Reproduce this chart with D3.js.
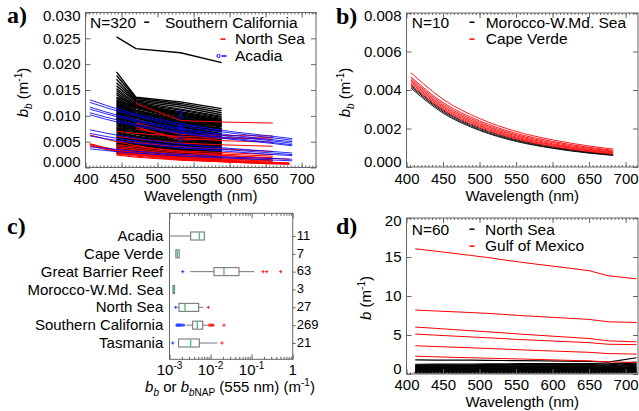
<!DOCTYPE html>
<html><head><meta charset="utf-8">
<script src="https://cdn.jsdelivr.net/npm/d3@7"></script>
<style>body{margin:0;background:#fff}svg{display:block}</style>
</head><body><svg id="c" width="639" height="411"></svg>
<script>
// ---------------- DATA ----------------
// Panel a: bb spectra
const socalWl = [443, 470, 532, 589];
const socalLines = [
[0.0253,0.0230,0.0222,0.0203],
[0.0185,0.0136,0.0127,0.0114],[0.0178,0.0134,0.0124,0.0110],[0.0171,0.0131,0.0121,0.0106],
[0.0164,0.0129,0.0117,0.0102],[0.0158,0.0127,0.0113,0.0099],[0.0153,0.0124,0.0111,0.0097],
[0.0149,0.0122,0.0108,0.0095],[0.0145,0.0119,0.0106,0.0093],[0.0141,0.0117,0.0104,0.0091],
[0.0098,0.0128,0.0101,0.0089],[0.0104,0.0124,0.0098,0.0086],[0.0093,0.0119,0.0094,0.0083],
[0.0136,0.0121,0.0101,0.0090],[0.0134,0.0117,0.0099,0.0088],[0.0131,0.0116,0.0096,0.0085],
[0.0129,0.0114,0.0095,0.0083],[0.0127,0.0111,0.0093,0.0081],[0.0125,0.0110,0.0090,0.0080],
[0.0123,0.0108,0.0089,0.0079],[0.0121,0.0106,0.0087,0.0076],[0.0119,0.0104,0.0086,0.0075],
[0.0117,0.0103,0.0084,0.0074],[0.0115,0.0101,0.0082,0.0071],[0.0113,0.0099,0.0081,0.0070],
[0.0111,0.0098,0.0079,0.0069],[0.0109,0.0096,0.0078,0.0066],[0.0107,0.0095,0.0075,0.0065],
[0.0105,0.0092,0.0074,0.0063],[0.0103,0.0091,0.0072,0.0062],[0.0101,0.0090,0.0071,0.0060],
[0.0099,0.0087,0.0069,0.0059],[0.0097,0.0086,0.0068,0.0058],[0.0095,0.0084,0.0066,0.0056],
[0.0093,0.0082,0.0065,0.0055],[0.0091,0.0081,0.0063,0.0054],[0.0089,0.0079,0.0062,0.0052],
[0.0087,0.0077,0.0061,0.0050],[0.0085,0.0076,0.0059,0.0049],[0.0083,0.0074,0.0057,0.0048],
[0.0081,0.0072,0.0056,0.0046],[0.0079,0.0070,0.0055,0.0045],[0.0077,0.0069,0.0053,0.0043],
[0.0075,0.0067,0.0051,0.0042],[0.0073,0.0065,0.0050,0.0041],[0.0071,0.0064,0.0048,0.0039],
[0.0069,0.0061,0.0047,0.0038],[0.0067,0.0060,0.0045,0.0037],[0.0065,0.0058,0.0044,0.0035],
[0.0063,0.0056,0.0042,0.0034],[0.0061,0.0054,0.0041,0.0033],[0.0059,0.0053,0.0039,0.0031],
[0.0057,0.0051,0.0038,0.0030],[0.0055,0.0049,0.0036,0.0029],[0.0053,0.0047,0.0035,0.0027],
[0.0051,0.0046,0.0033,0.0026],[0.0049,0.0044,0.0032,0.0025],[0.0047,0.0042,0.0030,0.0024],
[0.0045,0.0040,0.0029,0.0023],[0.0043,0.0039,0.0028,0.0021],[0.0041,0.0037,0.0026,0.0020],
[0.0039,0.0035,0.0025,0.0019],[0.0037,0.0033,0.0024,0.0018],[0.0035,0.0032,0.0023,0.0017],
[0.0033,0.0030,0.0021,0.0016],[0.0031,0.0028,0.0020,0.0015],[0.0029,0.0026,0.0019,0.0015],
[0.0027,0.0025,0.0018,0.0014]
];
const nsWlA = [406, 443, 490, 532, 589, 683];
const northSeaA = [
[0.0063,0.0050,0.0038,0.0031,0.0024,0.0016],
[0.0046,0.0034,0.0025,0.0019,0.0014,0.0009],
[0.0045,0.0033,0.0024,0.0018,0.0013,0.0008],
[0.0044,0.0032,0.0023,0.0017,0.0012,0.0007],
[0.0042,0.0031,0.0022,0.0016,0.0011,0.0006]
];
const nsWlB = [443, 470, 532, 589, 660];
const northSeaB = [
[0.0070,0.0066,0.0060,0.0058,0.0055],[0.0060,0.0056,0.0047,0.0044,0.0041],
[0.0052,0.0048,0.0040,0.0036,0.0031],[0.0044,0.0040,0.0032,0.0029,0.0025],
[0.0041,0.0037,0.0029,0.0026,0.0022],[0.0038,0.0034,0.0026,0.0023,0.0019],
[0.0036,0.0032,0.0024,0.0021,0.0017],[0.0034,0.0030,0.0022,0.0019,0.0015],
[0.0032,0.0028,0.0020,0.0017,0.0013],[0.0030,0.0026,0.0019,0.0016,0.0012],
[0.0028,0.0024,0.0017,0.0014,0.0010],[0.0026,0.0022,0.0015,0.0012,0.0008],
[0.0024,0.0020,0.0014,0.0011,0.0007]
];
const nsWlC = [470, 532, 589, 660];
const northSeaC = [
[0.0124,0.0091,0.0088,0.0086],[0.0079,0.0053,0.0056,0.0058],
[0.0086,0.0064,0.0062,0.0061],[0.0075,0.0057,0.0052,0.0049]
];
const acadiaWl = [406, 450, 500, 550, 600, 650, 687];
const acadiaLines = [
[0.0131,0.0111,0.0094,0.0081,0.0070,0.0062,0.0056],
[0.0126,0.0107,0.0090,0.0077,0.0067,0.0059,0.0053],
[0.0117,0.0099,0.0084,0.0072,0.0063,0.0055,0.0050],
[0.0113,0.0096,0.0081,0.0069,0.0060,0.0053,0.0047],
[0.0106,0.0090,0.0076,0.0065,0.0057,0.0050,0.0044],
[0.0102,0.0086,0.0073,0.0063,0.0055,0.0048,0.0042],
[0.0073,0.0061,0.0051,0.0043,0.0037,0.0032,0.0028],
[0.0066,0.0055,0.0046,0.0039,0.0034,0.0029,0.0025],
[0.0061,0.0051,0.0042,0.0036,0.0031,0.0026,0.0023],
[0.0040,0.0034,0.0028,0.0024,0.0020,0.0018,0.0016],
[0.0036,0.0030,0.0025,0.0021,0.0018,0.0015,0.0013]
];
const acadiaPointWl = 532;
const acadiaPoints = [0.0108, 0.0097, 0.0079, 0.0076, 0.0060, 0.0053];

// Panel b
const bWl = [406, 450, 500, 550, 600, 650, 683];
const capeVerdeLines = [
[0.00490,0.00352,0.00252,0.00185,0.00141,0.00109,0.00093],
[0.00468,0.00335,0.00240,0.00175,0.00133,0.00102,0.00087],
[0.00460,0.00326,0.00232,0.00168,0.00127,0.00097,0.00082],
[0.00452,0.00318,0.00225,0.00162,0.00121,0.00092,0.00078],
[0.00445,0.00311,0.00218,0.00156,0.00116,0.00088,0.00074],
[0.00438,0.00304,0.00212,0.00151,0.00112,0.00084,0.00071],
[0.00430,0.00298,0.00206,0.00146,0.00107,0.00080,0.00067]
];
const moroccoLines = [
[0.00425,0.00293,0.00201,0.00142,0.00104,0.00077,0.00065],
[0.00418,0.00287,0.00195,0.00137,0.00100,0.00074,0.00062],
[0.00410,0.00280,0.00190,0.00133,0.00097,0.00072,0.00060]
];

// Panel c: box plot at 555 nm
const boxRegions = ["Acadia","Cape Verde","Great Barrier Reef","Morocco-W.Md. Sea","North Sea","Southern California","Tasmania"];
const boxCounts = [11, 7, 63, 3, 27, 269, 21];
const boxWhiskLo = [0.00102, 0.00140, 0.00316, 0.00119, 0.00161, 0.00260, 0.00164];
const boxQ1 =      [0.00328, 0.00143, 0.01210, 0.00122, 0.00170, 0.00367, 0.00167];
const boxMedian =  [0.00532, 0.00155, 0.02120, 0.00128, 0.00238, 0.00475, 0.00328];
const boxQ3 =      [0.00703, 0.00172, 0.04920, 0.00133, 0.00514, 0.00643, 0.00532];
const boxWhiskHi = [0.00703, 0.00175, 0.11600, 0.00136, 0.00665, 0.00840, 0.01460];
const boxOutLo = [[], [], [0.0021], [], [0.00142], [0.00150,0.00158,0.00165,0.00172,0.00180,0.00190,0.00205,0.00225], [0.00120]];
const boxOutHi = [[], [], [0.19,0.233,0.51], [], [0.0088], [0.0092,0.0098,0.0104,0.0110,0.0116,0.0212], [0.019]];

// Panel d: b spectra
const dWl = [412, 440, 488, 510, 532, 555, 650, 676, 715];
const gulfLines = [
[16.05,15.75,15.20,14.95,14.65,14.35,13.25,12.60,12.20],
[8.20,8.08,7.88,7.78,7.65,7.50,7.00,6.70,6.60],
[6.02,5.85,5.55,5.42,5.28,5.12,4.55,4.25,4.12],
[5.12,4.98,4.75,4.65,4.54,4.42,4.02,3.82,3.76],
[3.62,3.52,3.36,3.28,3.20,3.10,2.78,2.62,2.55],
[2.28,2.20,2.08,2.03,1.98,1.93,1.68,1.55,1.48]
];
const northSeaD = [
[1.80,1.79,1.77,1.75,1.73,1.71,1.62,1.52,2.08],
[1.25,1.26,1.28,1.30,1.31,1.32,1.33,1.30,1.52],
[1.15,1.16,1.18,1.20,1.21,1.22,1.22,1.17,1.42],
[1.08,1.08,1.10,1.11,1.12,1.12,1.12,1.05,1.30],
[1.00,1.00,1.02,1.03,1.03,1.04,1.03,0.96,1.22],
[0.93,0.93,0.94,0.95,0.95,0.95,0.94,0.88,1.12],
[0.86,0.86,0.87,0.87,0.87,0.88,0.86,0.80,1.02],
[0.80,0.80,0.80,0.80,0.80,0.80,0.79,0.73,0.92],
[0.74,0.74,0.74,0.74,0.74,0.74,0.72,0.66,0.84],
[0.68,0.68,0.68,0.68,0.68,0.68,0.66,0.60,0.76],
[0.62,0.62,0.62,0.62,0.62,0.62,0.60,0.55,0.68],
[0.56,0.56,0.56,0.56,0.56,0.56,0.54,0.50,0.60],
[0.50,0.50,0.50,0.50,0.50,0.50,0.48,0.45,0.52],
[0.44,0.44,0.44,0.44,0.44,0.44,0.43,0.40,0.46],
[0.38,0.38,0.38,0.38,0.38,0.38,0.37,0.35,0.40],
[0.32,0.32,0.32,0.32,0.32,0.32,0.31,0.30,0.34],
[0.26,0.26,0.26,0.26,0.26,0.26,0.26,0.25,0.28],
[0.20,0.20,0.20,0.20,0.20,0.20,0.20,0.19,0.22],
[0.14,0.14,0.14,0.14,0.14,0.14,0.14,0.14,0.16]
];

// Tick values
const wlMajor = [400, 450, 500, 550, 600, 650, 700];
const aYTicks = [0, 0.005, 0.010, 0.015, 0.020, 0.025, 0.030];
const bYTicks = [0, 0.002, 0.004, 0.006, 0.008];
const dYTicks = [0, 5, 10, 15, 20];
const cXTicks = [1e-3, 1e-2, 1e-1, 1];
const cXLabels = ["-3", "-2", "-1", ""];

// ---------------- DRAWING ----------------
const FONT = '"Liberation Sans", Arial, Helvetica, sans-serif';
const AX = "#666";
const RED = "#ff0000", BLUE = "#0000ff";
const LEG = 16.9; // legend row spacing
const svg = d3.select("#c").style("font-family", FONT);

function addAxis(g, axis, tx, ty) {
  const a = g.append("g").attr("transform", `translate(${tx},${ty})`).call(axis);
  a.select(".domain").remove();
  a.selectAll("line").attr("stroke", AX);
  a.selectAll("text").attr("fill", "#000").style("font-family", FONT).style("font-size", "15px");
  return a;
}
function range5(a, b, s) { return d3.range(a, b + 0.001, s); }

function frame(g, x, y, xMajor, xMinor, yMajor, yFmt, xPad) {
  const [x0, x1] = x.range(), [y0, y1] = y.range();
  g.append("rect").attr("x", x0).attr("y", y1).attr("width", x1 - x0).attr("height", y0 - y1)
    .attr("fill", "none").attr("stroke", AX);
  addAxis(g, d3.axisBottom(x).tickValues(xMinor).tickSize(-2).tickFormat(""), 0, y0);
  addAxis(g, d3.axisTop(x).tickValues(xMinor).tickSize(-2).tickFormat(""), 0, y1);
  addAxis(g, d3.axisBottom(x).tickValues(xMajor).tickSize(-5).tickPadding(xPad).tickFormat(d3.format("d")), 0, y0);
  addAxis(g, d3.axisTop(x).tickValues(xMajor).tickSize(-5).tickFormat(""), 0, y1);
  const la = addAxis(g, d3.axisLeft(y).tickValues(yMajor).tickSize(-5).tickPadding(5).tickFormat(yFmt), x0, 0);
  const n = yMajor.length;
  la.selectAll("text").attr("dy", (d, i) => i === 0 ? "-0.05em" : (i === n - 1 ? "0.5em" : "0.32em"));
  addAxis(g, d3.axisRight(y).tickValues(yMajor).tickSize(-5).tickFormat(""), x1, 0);
}
function xTitle(g, x, yb) {
  const [x0, x1] = x.range();
  g.append("text").attr("x", (x0 + x1) / 2).attr("y", yb).attr("text-anchor", "middle")
    .style("font-size", "15px").text("Wavelength (nm)");
}
function yTitle(g, cx, cy, sub, gap) {
  const t = g.append("text").attr("transform", `translate(${cx},${cy}) rotate(-90)`)
    .attr("text-anchor", "middle").style("font-size", "15px");
  t.append("tspan").style("font-style", "italic").text("b");
  if (sub) t.append("tspan").style("font-style", "italic").style("font-size", "10px").attr("dy", 4).text(sub);
  t.append("tspan").attr("dy", sub ? -4 : 0).text(gap + "(m");
  t.append("tspan").style("font-size", "10px").attr("dy", -6).text("-1");
  t.append("tspan").attr("dy", 6).text(")");
}
function panelLabel(x, y, s) {
  svg.append("text").attr("x", x).attr("y", y).style("font-family", '"Liberation Serif", "Times New Roman", serif')
    .style("font-weight", "bold").style("font-size", "24px").text(s);
}
function drawLines(g, x, y, wl, lines, color, curve, w) {
  const gen = d3.line().x((d, i) => x(wl[i])).y(d => y(d)).curve(curve || d3.curveLinear);
  g.append("g").selectAll("path").data(lines).join("path")
    .attr("d", gen).attr("fill", "none").attr("stroke", color).attr("stroke-width", w || 1);
}
function legText(g, x, y, s) {
  g.append("text").attr("x", x).attr("y", y).style("font-size", "15.5px").text(s);
}
function legDash(g, x, y, color) {
  g.append("line").attr("x1", x - 2.5).attr("x2", x + 2.5).attr("y1", y).attr("y2", y)
    .attr("stroke", color).attr("stroke-width", 1.5);
}

// ---- Panel a ----
{
  const g = svg.append("g");
  const x = d3.scaleLinear().domain([400, 720]).range([85.5, 316]);
  const y = d3.scaleLinear().domain([0, 0.030]).range([167.5, 12.5]);
  drawLines(g, x, y, socalWl, socalLines, "#000", null, 1.4);
  drawLines(g, x, y, nsWlA, northSeaA, RED, d3.curveMonotoneX);
  drawLines(g, x, y, nsWlB, northSeaB, RED);
  drawLines(g, x, y, nsWlC, northSeaC, RED);
  drawLines(g, x, y, acadiaWl, acadiaLines, BLUE, d3.curveMonotoneX, 0.85);
  g.append("g").selectAll("circle").data(acadiaPoints).join("circle")
    .attr("cx", x(acadiaPointWl)).attr("cy", d => y(d)).attr("r", 1.8)
    .attr("fill", "none").attr("stroke", BLUE).attr("stroke-width", 0.9);
  frame(g, x, y, wlMajor, range5(400, 720, 5), aYTicks, d3.format(".3f"), 6);
  xTitle(g, x, 201);
  yTitle(g, 28, 92.5, "b", " ");
  const r1 = 27.5;
  legText(g, 90, r1, "N=320"); legDash(g, 146.7, r1 - 5.3, "#000"); legText(g, 165, r1, "Southern California");
  legDash(g, 223, r1 + LEG - 5.3, RED); legText(g, 235, r1 + LEG, "North Sea");
  g.append("circle").attr("cx", 218.5).attr("cy", r1 + 2 * LEG - 5.3).attr("r", 1.6).attr("fill", "none").attr("stroke", BLUE);
  legDash(g, 224, r1 + 2 * LEG - 5.3, BLUE); legText(g, 235, r1 + 2 * LEG, "Acadia");
  panelLabel(7, 23, "a)");
}

// ---- Panel b ----
{
  const g = svg.append("g");
  const x = d3.scaleLinear().domain([400, 717]).range([406.5, 638]);
  const y = d3.scaleLinear().domain([0, 0.008]).range([167, 13]);
  drawLines(g, x, y, bWl, moroccoLines, "#000", d3.curveMonotoneX, 0.9);
  drawLines(g, x, y, bWl, capeVerdeLines, RED, d3.curveMonotoneX, 0.9);
  frame(g, x, y, wlMajor, range5(400, 715, 5), bYTicks, d3.format(".3f"), 6);
  xTitle(g, x, 200.5);
  yTitle(g, 350, 92.5, "b", " ");
  const r1 = 27.5;
  legText(g, 411.7, r1, "N=10"); legDash(g, 472, r1 - 5.3, "#000"); legText(g, 485.7, r1, "Morocco-W.Md. Sea");
  legDash(g, 472, r1 + LEG - 5.3, RED); legText(g, 485.7, r1 + LEG, "Cape Verde");
  panelLabel(336, 24, "b)");
}

// ---- Panel c ----
{
  const g = svg.append("g");
  const x = d3.scaleLog().domain([1e-3, 1]).range([169.5, 292.7]);
  const y = d3.scalePoint().domain(boxRegions).range([236, 343]);
  const top = 213.3, bot = 359.3;
  const [x0, x1] = x.range();
  g.append("rect").attr("x", x0).attr("y", top).attr("width", x1 - x0).attr("height", bot - top)
    .attr("fill", "none").attr("stroke", AX);
  const minor = [];
  [1e-3, 1e-2, 1e-1].forEach(b => { for (let k = 2; k <= 9; k++) minor.push(b * k); });
  addAxis(g, d3.axisBottom(x).tickValues(minor).tickSize(-2.5).tickFormat(""), 0, bot);
  addAxis(g, d3.axisTop(x).tickValues(minor).tickSize(-2.5).tickFormat(""), 0, top);
  addAxis(g, d3.axisBottom(x).tickValues(cXTicks).tickSize(-5).tickFormat(""), 0, bot);
  addAxis(g, d3.axisTop(x).tickValues(cXTicks).tickSize(-5).tickFormat(""), 0, top);
  cXTicks.forEach((v, i) => {
    const t = g.append("text").attr("x", x(v)).attr("y", 375).attr("text-anchor", "middle").style("font-size", "15px");
    if (cXLabels[i]) {
      t.append("tspan").text("10");
      t.append("tspan").attr("dy", -6).style("font-size", "10px").text(cXLabels[i]);
    } else t.text("1");
  });
  addAxis(g, d3.axisRight(y).tickSize(3).tickPadding(1).tickFormat((d, i) => boxCounts[i]), x1, 0)
    .selectAll("text").style("font-size", "13px").attr("dy", "0.25em");
  g.append("g").selectAll("text").data(boxRegions).join("text")
    .attr("x", 163.3).attr("y", d => y(d) + 5).attr("text-anchor", "end").style("font-size", "15px").text(d => d);
  const bh = 8;
  boxRegions.forEach((r, i) => {
    const cy = y(r);
    g.append("line").attr("x1", x(boxWhiskLo[i])).attr("x2", x(boxQ1[i])).attr("y1", cy).attr("y2", cy).attr("stroke", "#777");
    g.append("line").attr("x1", x(boxQ3[i])).attr("x2", x(boxWhiskHi[i])).attr("y1", cy).attr("y2", cy).attr("stroke", "#777");
    g.append("rect").attr("x", x(boxQ1[i])).attr("y", cy - bh / 2).attr("width", Math.max(x(boxQ3[i]) - x(boxQ1[i]), 0.5))
      .attr("height", bh).attr("fill", "#fff").attr("stroke", "#6a6a6a");
    g.append("line").attr("x1", x(boxMedian[i])).attr("x2", x(boxMedian[i])).attr("y1", cy - bh / 2 + 0.5).attr("y2", cy + bh / 2 - 0.5)
      .attr("stroke", "#3cbf8a").attr("stroke-width", 1.3);
    const plus = (v, color) => {
      const px = x(v);
      g.append("path").attr("d", `M${px - 1.6},${cy}H${px + 1.6}M${px},${cy - 1.6}V${cy + 1.6}`).attr("stroke", color).attr("stroke-width", 1);
    };
    boxOutLo[i].forEach(v => plus(v, "#2040ff"));
    boxOutHi[i].forEach(v => plus(v, "#ff2020"));
  });
  const t = g.append("text").attr("x", 230).attr("y", 392).attr("text-anchor", "middle").style("font-size", "15px");
  t.append("tspan").style("font-style", "italic").text("b");
  t.append("tspan").style("font-style", "italic").style("font-size", "10px").attr("dy", 4).text("b");
  t.append("tspan").attr("dy", -4).text(" or ");
  t.append("tspan").style("font-style", "italic").text("b");
  t.append("tspan").style("font-style", "italic").style("font-size", "10px").attr("dy", 4).text("b");
  t.append("tspan").style("font-size", "10px").text("NAP");
  t.append("tspan").attr("dy", -4).text(" (555 nm) (m");
  t.append("tspan").style("font-size", "10px").attr("dy", -6).text("-1");
  t.append("tspan").attr("dy", 6).text(")");
  panelLabel(7, 234, "c)");
}

// ---- Panel d ----
{
  const g = svg.append("g");
  const x = d3.scaleLinear().domain([400, 717]).range([406.5, 638]);
  const y = d3.scaleLinear().domain([0, 20]).range([374, 218]);
  drawLines(g, x, y, dWl, northSeaD, "#000", null, 1.2);
  drawLines(g, x, y, dWl, gulfLines, RED);
  frame(g, x, y, wlMajor, range5(400, 715, 5), dYTicks, d3.format("d"), 5.5);
  xTitle(g, x, 407);
  yTitle(g, 371, 298, null, "  ");
  const r1 = 234.5;
  legText(g, 411.7, r1, "N=60"); legDash(g, 472, r1 - 5.3, "#000"); legText(g, 485, r1, "North Sea");
  legDash(g, 472, r1 + LEG - 5.3, RED); legText(g, 485, r1 + LEG, "Gulf of Mexico");
  panelLabel(336, 234, "d)");
}
</script>
</body></html>
